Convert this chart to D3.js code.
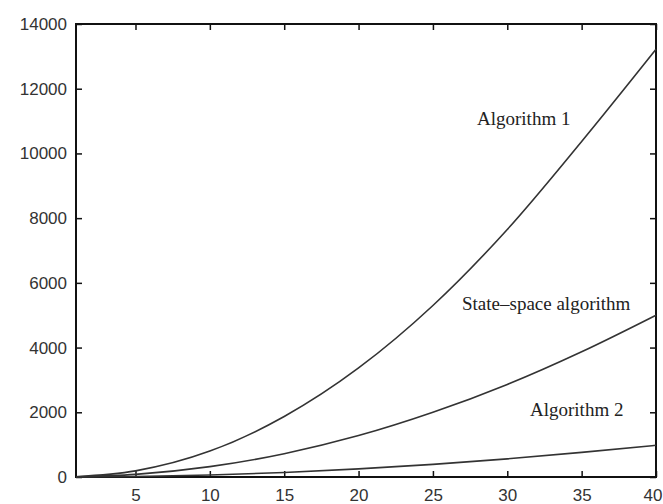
<!DOCTYPE html>
<html>
<head>
<meta charset="utf-8">
<script src="https://cdn.jsdelivr.net/npm/d3@7/dist/d3.min.js"></script>
<style>
  html, body { margin: 0; padding: 0; background: #fff; }
  svg { display: block; }
</style>
</head>
<body>
<svg id="chart" width="663" height="504"></svg>
<script>
// Problem size n and running cost of each method
const sizes       = [1, 5, 10, 15, 20, 25, 30, 35, 40];
const algorithm1  = [8, 190, 800, 1870, 3370, 5300, 7650, 10370, 13220];
const stateSpace  = [3, 80, 320, 720, 1280, 2000, 2860, 3870, 5000];
const algorithm2  = [1, 15, 62, 140, 250, 390, 560, 760, 980];

const seriesNames = ["Algorithm 1", "State\u2013space algorithm", "Algorithm 2"];
const xTicks = [5, 10, 15, 20, 25, 30, 35, 40];
const yTicks = [0, 2000, 4000, 6000, 8000, 10000, 12000, 14000];

const svg = d3.select("#chart");
const plotL = 76, plotR = 656, plotT = 24, plotB = 477;

const x = d3.scaleLinear().domain([1, 40]).range([plotL, plotR]);
const y = d3.scaleLinear().domain([0, 14000]).range([plotB, plotT]);

const tickFont = "'Liberation Sans', Arial, sans-serif";
const labelFont = "'Liberation Serif', 'Times New Roman', serif";

// Inward ticks on all four sides of the frame
const gBottom = svg.append("g").attr("transform", `translate(0,${plotB})`)
  .call(d3.axisBottom(x).tickValues(xTicks).tickSize(-6).tickPadding(12).tickFormat(d3.format("d")));
const gLeft = svg.append("g").attr("transform", `translate(${plotL},0)`)
  .call(d3.axisLeft(y).tickValues(yTicks).tickSize(-6).tickPadding(9).tickFormat(d3.format("d")));
const gTop = svg.append("g").attr("transform", `translate(0,${plotT})`)
  .call(d3.axisTop(x).tickValues(xTicks).tickSize(-6).tickFormat(""));
const gRight = svg.append("g").attr("transform", `translate(${plotR},0)`)
  .call(d3.axisRight(y).tickValues(yTicks).tickSize(-6).tickFormat(""));

[gBottom, gLeft, gTop, gRight].forEach(g => {
  g.select(".domain").remove();
  g.selectAll(".tick line").attr("stroke", "#111").attr("stroke-width", 1.5);
  g.selectAll(".tick text")
    .attr("font-family", tickFont)
    .attr("font-size", 17)
    .attr("fill", "#333");
});

// Keep the last x label inside the page edge
gBottom.selectAll(".tick text")
  .filter(d => d === xTicks[xTicks.length - 1])
  .attr("text-anchor", "end")
  .attr("x", 662 - plotR);

// Plot frame
svg.append("rect")
  .attr("x", plotL).attr("y", plotT)
  .attr("width", plotR - plotL).attr("height", plotB - plotT)
  .attr("fill", "none").attr("stroke", "#111").attr("stroke-width", 2);

// Curves
const line = d3.line()
  .x((d, i) => x(sizes[i]))
  .y(d => y(d))
  .curve(d3.curveMonotoneX);

[algorithm1, stateSpace, algorithm2].forEach(vals => {
  svg.append("path")
    .datum(vals)
    .attr("d", line)
    .attr("fill", "none")
    .attr("stroke", "#333")
    .attr("stroke-width", 1.6);
});

// Curve labels
const labelPos = [[477, 125], [462, 310], [530, 416]];
seriesNames.forEach((name, i) => {
  svg.append("text")
    .attr("x", labelPos[i][0])
    .attr("y", labelPos[i][1])
    .attr("font-family", labelFont)
    .attr("font-size", 19)
    .attr("fill", "#222")
    .text(name);
});
</script>
</body>
</html>
